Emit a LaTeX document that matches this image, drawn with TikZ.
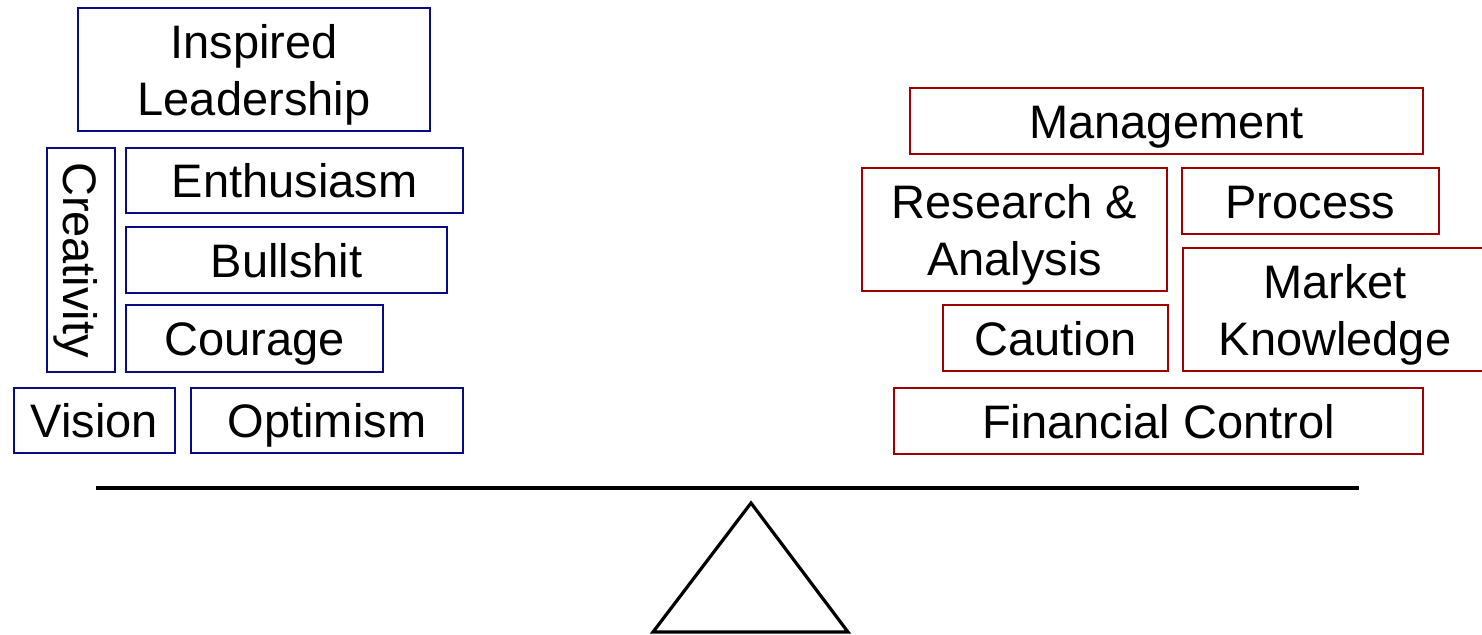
\documentclass[tikz,border=0pt]{standalone}
\usepackage{fontspec}
\setmainfont{Liberation Sans}
\definecolor{boxblue}{RGB}{10,10,130}
\definecolor{boxred}{RGB}{160,0,0}
\newcommand{\ms}{\rule[-5pt]{0pt}{27.3pt}}
\begin{document}
\begin{tikzpicture}[x=0.5pt,y=-0.5pt,
  lbl/.style={inner sep=0pt, align=center, font=\fontsize{23.5}{28.5}\selectfont},
  bluebox/.style={lbl, draw=boxblue, line width=1.3pt},
  redbox/.style={lbl, draw=boxred, line width=1.3pt},
  beam/.style={line width=2pt, black},
  fulcrum/.style={line width=1.6pt, black, line join=miter}]
\useasboundingbox (0,0) rectangle (1482,634);
% left side
\node[bluebox, minimum width=176pt, minimum height=61.5pt] (il) at (254,69.5) {\ms Inspired\\\ms Leadership};
\node[bluebox, minimum width=34pt, minimum height=112pt] (cr) at (81,260) {};
\node[lbl, rotate=-90] (crt) at (cr.center) {\ms Creativity};
\node[bluebox, minimum width=168.5pt, minimum height=32.5pt] (en) at (294.5,180.5) {\ms Enthusiasm};
\node[bluebox, minimum width=160.5pt, minimum height=33pt] (bu) at (286.5,260) {\ms Bullshit};
\node[bluebox, minimum width=128.5pt, minimum height=33.5pt] (co) at (254.5,338.5) {\ms Courage};
\node[bluebox, minimum width=80.5pt, minimum height=32.5pt] (vi) at (94.5,420.5) {\ms Vision};
\node[bluebox, minimum width=136pt, minimum height=32.5pt] (op) at (327,420.5) {\ms Optimism};
% right side
\node[redbox, minimum width=256.5pt, minimum height=33pt] (ma) at (1166.5,121) {\ms Management};
\node[redbox, minimum width=152.5pt, minimum height=61.5pt] (ra) at (1014.5,229.5) {\ms Research \&\\\ms Analysis};
\node[redbox, minimum width=128.5pt, minimum height=33pt] (pr) at (1310.5,201) {\ms Process};
\node[redbox, minimum width=152pt, minimum height=61.5pt] (mk) at (1335,309.5) {\ms Market\\\ms Knowledge};
\node[redbox, minimum width=112.5pt, minimum height=33pt] (ca) at (1055.5,338) {\ms Caution};
\node[redbox, minimum width=264.5pt, minimum height=33pt] (fc) at (1158.5,421) {\ms Financial Control};
% balance
\coordinate (bl) at (96,488);
\coordinate (br) at (1359,488);
\draw[beam] (bl) -- (br);
\coordinate (ta) at (751,503);
\coordinate (tl) at (653,632);
\coordinate (tr) at (848,632);
\draw[fulcrum] (ta) -- (tr) -- (tl) -- cycle;
\end{tikzpicture}
\end{document}
